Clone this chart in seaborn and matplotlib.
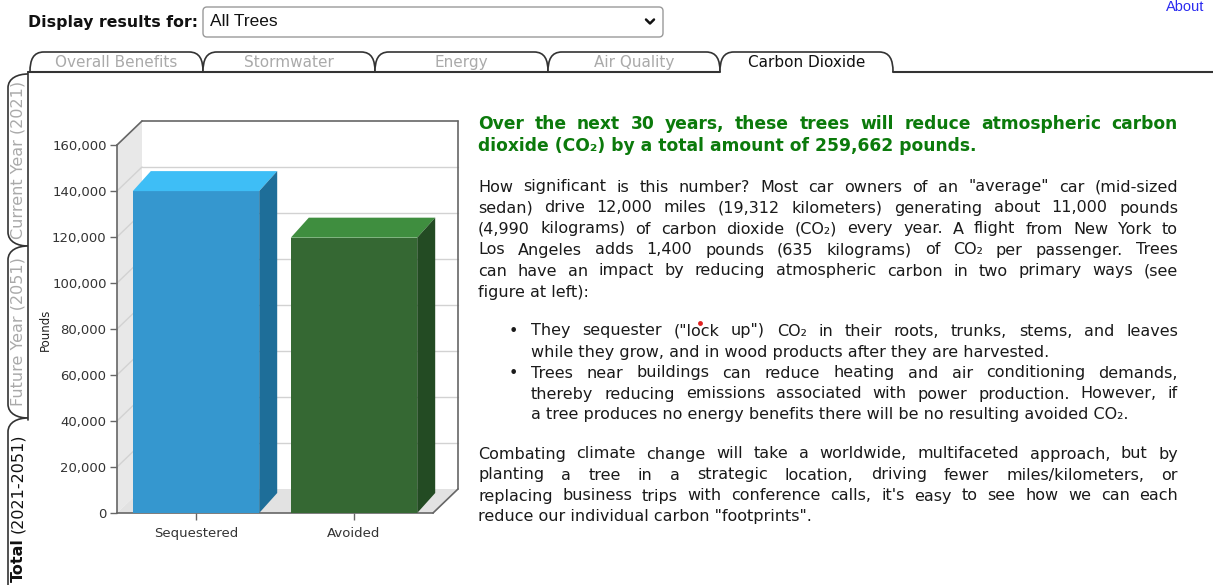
import matplotlib
matplotlib.use('Agg')
import numpy as np
import pandas as pd
import matplotlib.pyplot as plt
import seaborn as sns
from matplotlib.patches import Polygon, FancyBboxPatch, PathPatch
from matplotlib.path import Path
from matplotlib.transforms import IdentityTransform
from matplotlib.ticker import FuncFormatter

# ---- data ----
categories = ['Sequestered', 'Avoided']
pounds = [139950, 119712]          # total 259,662 lbs
y_ticks = [0, 20000, 40000, 60000, 80000, 100000, 120000, 140000, 160000]
face_colors = ['#3597cf', '#356833']
top_colors = ['#3ebef6', '#3f8e3f']
side_colors = ['#1e6e99', '#234b23']

top_tabs = ['Overall Benefits', 'Stormwater', 'Energy', 'Air Quality', 'Carbon Dioxide']
side_tabs = ['Current Year (2021)', 'Future Year (2051)']

heading = ["Over the next 30 years, these trees will reduce atmospheric carbon",
           "dioxide (CO₂) by a total amount of 259,662 pounds."]
para1 = ['How significant is this number? Most car owners of an "average" car (mid-sized',
         'sedan) drive 12,000 miles (19,312 kilometers) generating about 11,000 pounds',
         '(4,990 kilograms) of carbon dioxide (CO₂) every year. A flight from New York to',
         'Los Angeles adds 1,400 pounds (635 kilograms) of CO₂ per passenger. Trees',
         'can have an impact by reducing atmospheric carbon in two primary ways (see',
         'figure at left):']
bullets = [['They sequester ("lock up") CO₂ in their roots, trunks, stems, and leaves',
            'while they grow, and in wood products after they are harvested.'],
           ['Trees near buildings can reduce heating and air conditioning demands,',
            'thereby reducing emissions associated with power production. However, if',
            'a tree produces no energy benefits there will be no resulting avoided CO₂.']]
para2 = ['Combating climate change will take a worldwide, multifaceted approach, but by',
         'planting a tree in a strategic location, driving fewer miles/kilometers, or',
         "replacing business trips with conference calls, it's easy to see how we can each",
         'reduce our individual carbon "footprints".']

sns.set_style('ticks')
plt.rcParams['font.family'] = ['DejaVu Sans']

W, H = 1213, 585
fig = plt.figure(figsize=(W / 100, H / 100), dpi=100)

# background axes in pixel units (y downwards) for the page furniture
bg = fig.add_axes([0, 0, 1, 1])
bg.set_xlim(0, W)
bg.set_ylim(H, 0)
bg.axis('off')
renderer = fig.canvas.get_renderer()

# ---- header ----
bg.text(28, 22, 'Display results for:', fontsize=11.3, fontweight='bold', va='center', color='#111')
bg.add_patch(FancyBboxPatch((203, 7), 460, 30, boxstyle='round,pad=0,rounding_size=4',
                            fc='white', ec='#9a9a9a', lw=1))
bg.text(210, 22, 'All Trees', fontsize=12.5, family='Liberation Sans', va='center', color='#111')
bg.plot([646, 650, 654], [19.5, 23.5, 19.5], color='#111', lw=1.8, solid_capstyle='round')
bg.text(1166, 7, 'About', fontsize=10.5, family='Liberation Sans', va='center', color='#2a2af0')

# ---- top tabs ----
tab_edges = [30, 203, 375, 548, 720, 893]
for i, name in enumerate(top_tabs):
    x0, x1 = tab_edges[i], tab_edges[i + 1]
    verts = [(x0, 72), (x0, 60), (x0 + 3, 52), (x0 + 14, 52), (x1 - 14, 52),
             (x1 - 3, 52), (x1, 60), (x1, 72)]
    codes = [Path.MOVETO, Path.CURVE4, Path.CURVE4, Path.CURVE4, Path.LINETO,
             Path.CURVE4, Path.CURVE4, Path.CURVE4]
    bg.add_patch(PathPatch(Path(verts, codes), fc='white', ec='#333', lw=1.2))
    active = name == 'Carbon Dioxide'
    bg.text((x0 + x1) / 2, 62.5, name, ha='center', va='center', fontsize=11,
            color='#111' if active else '#aaaaaa')
bg.plot([28, 720], [72, 72], color='#333', lw=1.5)
bg.plot([893, W], [72, 72], color='#333', lw=1.5)
bg.plot([28, 28], [72, 420], color='#333', lw=1.2)

# ---- side tabs ----
side_edges = [74, 246, 418, 600]
for i in range(3):
    y0, y1 = side_edges[i], side_edges[i + 1]
    verts = [(28, y0), (18, y0), (8, y0 + 4), (8, y0 + 14), (8, y1 - 14),
             (8, y1 - 4), (18, y1), (28, y1)]
    codes = [Path.MOVETO, Path.CURVE4, Path.CURVE4, Path.CURVE4, Path.LINETO,
             Path.CURVE4, Path.CURVE4, Path.CURVE4]
    bg.add_patch(PathPatch(Path(verts, codes), fc='white', ec='#333', lw=1.2))
for i, name in enumerate(side_tabs):
    bg.text(18, (side_edges[i] + side_edges[i + 1]) / 2, name, rotation=90, ha='center',
            va='center', fontsize=11.5, color='#aaaaaa')
t = bg.text(18, 582, 'Total', rotation=90, rotation_mode='anchor', ha='left', va='center',
            fontsize=11.5, fontweight='bold', color='#111')
th = t.get_window_extent(renderer).height
bg.text(18, 582 - th - 5, '(2021-2051)', rotation=90, rotation_mode='anchor', ha='left',
        va='center', fontsize=11.5, color='#111')

# ---- text block ----
def put_line(line, x0, x1, y, justify=True, **kw):
    if not justify:
        bg.text(x0, y, line, ha='left', va='center', **kw)
        return
    words = line.split(' ')
    texts = [bg.text(0, y, w, ha='left', va='center', **kw) for w in words]
    widths = [tx.get_window_extent(renderer).width for tx in texts]
    gap = (x1 - x0 - sum(widths)) / (len(words) - 1)
    x = x0
    for tx, wd in zip(texts, widths):
        tx.set_x(x)
        x += wd + gap

L, R = 478, 1178
body = dict(fontsize=11.5, color='#1a1a1a')
head = dict(fontsize=12.3, fontweight='bold', color='#0b7a0b')
put_line(heading[0], L, R, 124, **head)
put_line(heading[1], L, R, 146, justify=False, **head)
for k, line in enumerate(para1):
    put_line(line, L, R, 187 + 21 * k, justify=k < len(para1) - 1, **body)
y = 331
for group in bullets:
    bg.text(513, y, '•', ha='center', va='center', **body)
    for k, line in enumerate(group):
        put_line(line, 531, R, y, justify=k < len(group) - 1, **body)
        y += 21
for k, line in enumerate(para2):
    put_line(line, L, R, 454 + 21 * k, justify=k < len(para2) - 1, **body)
bg.plot([700], [323], marker='o', ms=3.5, color='#e02020', mec='none')

# ---- 3D-looking bar chart ----
ax = fig.add_axes([117 / W, (H - 513) / H, (433 - 117) / W, (513 - 145) / H])
ax.set_zorder(1)
ax.patch.set_alpha(0)

df = pd.DataFrame({'category': categories, 'pounds': pounds})
sns.barplot(data=df, x='category', y='pounds', hue='category', palette=face_colors,
            saturation=1, width=0.8, legend=False, ax=ax, zorder=3, linewidth=0)
ax.set_xlim(-0.5, 1.5)
ax.set_ylim(0, 160000)
ax.set_yticks(y_ticks)
ax.yaxis.set_major_formatter(FuncFormatter(lambda v, p: f'{v:,.0f}'))
ax.set_xlabel('')
ax.set_ylabel('')
for s in ['top', 'right']:
    ax.spines[s].set_visible(False)
for s in ['left', 'bottom']:
    ax.spines[s].set_color('#666')
    ax.spines[s].set_linewidth(1.2)
ax.tick_params(axis='both', direction='out', length=5, width=1, color='#666',
               labelsize=9.5, labelcolor='#333')
ax.tick_params(axis='y', pad=2.5)
ax.tick_params(axis='x', pad=5)
fig.text(45 / W, 1 - 330 / H, 'Pounds', rotation=90, ha='center', va='center',
         fontsize=8.5, color='#222')

def D(xd, yd, off=(0, 0)):
    p = ax.transData.transform((xd, yd))
    return (p[0] + off[0], p[1] + off[1])

def poly(pts, **kw):
    ax.add_patch(Polygon(pts, closed=True, transform=IdentityTransform(), clip_on=False, **kw))

def seg(a, b, **kw):
    ax.add_line(matplotlib.lines.Line2D([a[0], b[0]], [a[1], b[1]], transform=IdentityTransform(),
                                        clip_on=False, **kw))

wall = (25, 24)
ytop = y_ticks[-1]
poly([D(-0.5, 0), D(-0.5, ytop), D(-0.5, ytop, wall), D(-0.5, 0, wall)],
     fc='#e8e8e8', ec='none', zorder=0.5)
poly([D(-0.5, 0), D(1.5, 0), D(1.5, 0, wall), D(-0.5, 0, wall)],
     fc='#e2e2e2', ec='none', zorder=0.5)
for v in y_ticks[1:-1]:
    seg(D(-0.5, v, wall), D(1.5, v, wall), color='#d2d2d2', lw=1, zorder=0.6)
    seg(D(-0.5, v), D(-0.5, v, wall), color='#d2d2d2', lw=1, zorder=0.6)
edge = dict(color='#666', lw=1.2, zorder=0.7)
seg(D(-0.5, ytop), D(-0.5, ytop, wall), **edge)
seg(D(-0.5, ytop, wall), D(1.5, ytop, wall), **edge)
seg(D(1.5, ytop, wall), D(1.5, 0, wall), **edge)
seg(D(1.5, 0), D(1.5, 0, wall), **edge)

depth = (18, 20)
for p, tc, sc in zip(ax.patches, top_colors, side_colors):
    x0, w, h = p.get_x(), p.get_width(), p.get_height()
    poly([D(x0, h), D(x0 + w, h), D(x0 + w, h, depth), D(x0, h, depth)], fc=tc, ec='none', zorder=3)
    poly([D(x0 + w, 0), D(x0 + w, h), D(x0 + w, h, depth), D(x0 + w, 0, depth)], fc=sc, ec='none', zorder=3)

fig.savefig('out.png', dpi=100)
